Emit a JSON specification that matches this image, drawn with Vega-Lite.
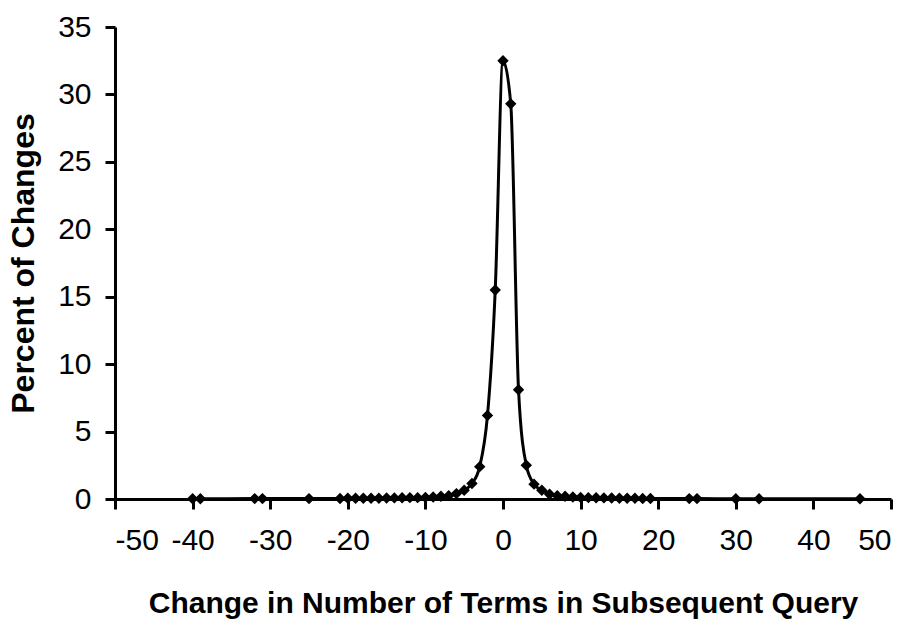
{
  "$schema": "https://vega.github.io/schema/vega-lite/v6.json",
  "width": 776,
  "height": 472,
  "autosize": {"type": "none"},
  "padding": {"left": 115, "top": 27, "right": 19, "bottom": 121},
  "background": "white",
  "config": {
    "view": {"stroke": null},
    "axis": {
      "grid": false,
      "domainColor": "black",
      "domainWidth": 3,
      "tickColor": "black",
      "tickWidth": 3,
      "tickSize": 10,
      "labelFont": "Liberation Sans",
      "labelFontSize": 30,
      "labelColor": "black",
      "labelExpr": "'' + datum.value",
      "titleFont": "Liberation Sans",
      "titleFontWeight": "bold",
      "titleColor": "black"
    }
  },
  "data": {
    "values": [
      {"change": -40, "pct": 0.02},
      {"change": -39, "pct": 0.02},
      {"change": -32, "pct": 0.03},
      {"change": -31, "pct": 0.03},
      {"change": -25, "pct": 0.03},
      {"change": -21, "pct": 0.04},
      {"change": -20, "pct": 0.05},
      {"change": -19, "pct": 0.05},
      {"change": -18, "pct": 0.05},
      {"change": -17, "pct": 0.06},
      {"change": -16, "pct": 0.06},
      {"change": -15, "pct": 0.07},
      {"change": -14, "pct": 0.08},
      {"change": -13, "pct": 0.09},
      {"change": -12, "pct": 0.1},
      {"change": -11, "pct": 0.1},
      {"change": -10, "pct": 0.12},
      {"change": -9, "pct": 0.15},
      {"change": -8, "pct": 0.2},
      {"change": -7, "pct": 0.25},
      {"change": -6, "pct": 0.4},
      {"change": -5, "pct": 0.65},
      {"change": -4, "pct": 1.15},
      {"change": -3, "pct": 2.4},
      {"change": -2, "pct": 6.2},
      {"change": -1, "pct": 15.5},
      {"change": 0, "pct": 32.5},
      {"change": 1, "pct": 29.3},
      {"change": 2, "pct": 8.1},
      {"change": 3, "pct": 2.5},
      {"change": 4, "pct": 1.1},
      {"change": 5, "pct": 0.65},
      {"change": 6, "pct": 0.35},
      {"change": 7, "pct": 0.25},
      {"change": 8, "pct": 0.2},
      {"change": 9, "pct": 0.15},
      {"change": 10, "pct": 0.12},
      {"change": 11, "pct": 0.1},
      {"change": 12, "pct": 0.09},
      {"change": 13, "pct": 0.08},
      {"change": 14, "pct": 0.07},
      {"change": 15, "pct": 0.06},
      {"change": 16, "pct": 0.05},
      {"change": 17, "pct": 0.05},
      {"change": 18, "pct": 0.04},
      {"change": 19, "pct": 0.04},
      {"change": 24, "pct": 0.03},
      {"change": 25, "pct": 0.03},
      {"change": 30, "pct": 0.02},
      {"change": 33, "pct": 0.02},
      {"change": 46, "pct": 0.02}
    ]
  },
  "encoding": {
    "x": {
      "field": "change",
      "type": "quantitative",
      "scale": {"domain": [-50, 50], "nice": false, "zero": false},
      "axis": {
        "values": [-50, -40, -30, -20, -10, 0, 10, 20, 30, 40, 50],
        "title": "Change in Number of Terms in Subsequent Query",
        "titleFontSize": 30,
        "titleY": 104,
        "titleBaseline": "middle",
        "labelPadding": 16
      }
    },
    "y": {
      "field": "pct",
      "type": "quantitative",
      "scale": {"domain": [0, 35], "nice": false},
      "axis": {
        "values": [0, 5, 10, 15, 20, 25, 30, 35],
        "title": "Percent of Changes",
        "titleFontSize": 32,
        "titleX": -92,
        "titleBaseline": "middle",
        "labelPadding": 14
      }
    }
  },
  "layer": [
    {
      "mark": {"type": "line", "interpolate": "monotone", "color": "black", "strokeWidth": 3}
    },
    {
      "mark": {"type": "point", "shape": "diamond", "filled": true, "color": "black", "opacity": 1, "size": 130}
    }
  ]
}
